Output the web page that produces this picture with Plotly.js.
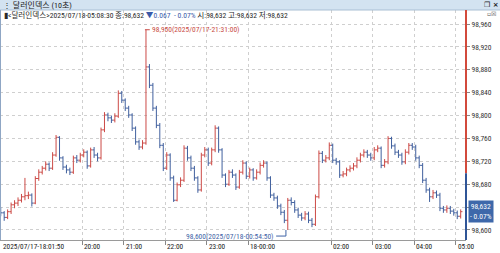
<!DOCTYPE html>
<html><head><meta charset="utf-8">
<script src="https://cdn.plot.ly/plotly-3.0.1.min.js"></script>
<style>html,body{margin:0;padding:0;background:#fff;}#chart{width:500px;height:253px;}</style>
</head><body><div id="chart"></div>
<script>
// ---- data (5-minute bars) ----
const barStart = '2025-07-17 18:02:30';
const barStepMinutes = 5;
const opens = [98.634,98.630,98.622,98.632,98.644,98.647,98.652,98.658,98.660,98.661,
98.647,98.690,98.701,98.708,98.715,98.708,98.731,98.762,98.726,98.710,
98.705,98.701,98.726,98.722,98.731,98.736,98.712,98.740,98.731,98.726,
98.775,98.801,98.796,98.792,98.799,98.839,98.827,98.813,98.801,98.778,
98.754,98.745,98.752,98.885,98.853,98.813,98.783,98.748,98.708,98.731,
98.691,98.652,98.679,98.687,98.743,98.726,98.708,98.691,98.670,98.731,
98.740,98.717,98.740,98.778,98.740,98.696,98.680,98.701,98.696,98.675,
98.701,98.717,98.694,98.705,98.691,98.701,98.713,98.717,98.691,98.661,
98.656,98.642,98.631,98.617,98.652,98.648,98.635,98.626,98.621,98.628,
98.617,98.610,98.658,98.734,98.722,98.726,98.748,98.722,98.719,98.696,
98.698,98.705,98.708,98.712,98.722,98.731,98.736,98.731,98.726,98.740,
98.743,98.713,98.719,98.760,98.747,98.736,98.731,98.719,98.736,98.748,
98.745,98.726,98.713,98.687,98.670,98.658,98.665,98.661,98.638,98.635,
98.638,98.633,98.630,98.624];
const highs = [98.640,98.633,98.636,98.648,98.652,98.657,98.663,98.691,98.667,98.664,
98.694,98.706,98.712,98.720,98.718,98.736,98.766,98.764,98.729,98.714,
98.709,98.730,98.731,98.735,98.741,98.739,98.744,98.745,98.735,98.779,
98.806,98.805,98.800,98.804,98.844,98.843,98.830,98.817,98.804,98.781,
98.758,98.757,98.950,98.890,98.857,98.817,98.787,98.752,98.736,98.734,
98.695,98.683,98.692,98.748,98.747,98.730,98.712,98.694,98.735,98.745,
98.744,98.744,98.783,98.781,98.743,98.699,98.705,98.706,98.699,98.705,
98.722,98.720,98.709,98.708,98.706,98.718,98.722,98.720,98.694,98.665,
98.660,98.646,98.635,98.656,98.657,98.652,98.639,98.630,98.633,98.632,
98.621,98.662,98.739,98.738,98.731,98.753,98.751,98.726,98.722,98.703,
98.709,98.713,98.717,98.727,98.735,98.741,98.740,98.735,98.745,98.748,
98.746,98.724,98.764,98.763,98.751,98.740,98.735,98.741,98.752,98.752,
98.749,98.730,98.717,98.691,98.674,98.670,98.669,98.665,98.642,98.643,
98.642,98.637,98.634,98.636];
const lows = [98.624,98.616,98.619,98.628,98.638,98.642,98.648,98.652,98.654,98.641,
98.645,98.686,98.697,98.704,98.703,98.705,98.728,98.721,98.705,98.699,
98.696,98.698,98.717,98.718,98.727,98.707,98.709,98.726,98.720,98.723,
98.771,98.790,98.787,98.788,98.796,98.822,98.808,98.796,98.773,98.749,
98.740,98.741,98.749,98.848,98.808,98.778,98.743,98.703,98.705,98.686,
98.649,98.650,98.675,98.684,98.721,98.703,98.686,98.665,98.667,98.727,
98.712,98.713,98.736,98.735,98.691,98.675,98.677,98.691,98.670,98.672,
98.697,98.689,98.690,98.686,98.688,98.697,98.709,98.686,98.656,98.651,
98.637,98.626,98.612,98.600,98.643,98.630,98.621,98.616,98.617,98.612,
98.605,98.607,98.655,98.717,98.718,98.722,98.717,98.714,98.691,98.692,
98.694,98.701,98.704,98.708,98.718,98.727,98.726,98.721,98.722,98.736,
98.708,98.709,98.715,98.742,98.731,98.726,98.714,98.715,98.732,98.740,
98.721,98.708,98.682,98.665,98.649,98.654,98.656,98.633,98.630,98.630,
98.628,98.625,98.619,98.620];
const closes = [98.630,98.622,98.632,98.644,98.647,98.652,98.658,98.660,98.661,98.647,
98.690,98.701,98.708,98.715,98.708,98.731,98.762,98.726,98.710,98.705,
98.701,98.726,98.722,98.731,98.736,98.712,98.740,98.731,98.726,98.775,
98.801,98.796,98.792,98.799,98.839,98.827,98.813,98.801,98.778,98.754,
98.745,98.752,98.885,98.853,98.813,98.783,98.748,98.708,98.731,98.691,
98.652,98.679,98.687,98.743,98.726,98.708,98.691,98.670,98.731,98.740,
98.717,98.740,98.778,98.740,98.696,98.680,98.701,98.696,98.675,98.701,
98.717,98.694,98.705,98.691,98.701,98.713,98.717,98.691,98.661,98.656,
98.642,98.631,98.617,98.652,98.648,98.635,98.626,98.621,98.628,98.617,
98.610,98.658,98.734,98.722,98.726,98.748,98.722,98.719,98.696,98.698,
98.705,98.708,98.712,98.722,98.731,98.736,98.731,98.726,98.740,98.743,
98.713,98.719,98.760,98.747,98.736,98.731,98.719,98.736,98.748,98.745,
98.726,98.713,98.687,98.670,98.658,98.665,98.661,98.638,98.635,98.638,
98.633,98.630,98.624,98.632];
const prevClose = 98.699;
const lastPrice = 98.632;
const maxPoint = {time:'2025-07-17 21:31:00', value:98.950, label:'98,950(2025/07/17-21:31:00)'};
const minPoint = {time:'2025-07-18 00:54:50', value:98.600, label:'98,600(2025/07/18-00:54:50)'};
const yTickVals = [98.600,98.640,98.680,98.720,98.760,98.800,98.840,98.880,98.920,98.960];
const yTickText = ['98,600','98,640','98,680','98,720','98,760','98,800','98,840','98,880','98,920','98,960'];
const xTickVals = ['2025-07-17 20:00','2025-07-17 21:00','2025-07-17 22:00','2025-07-17 23:00','2025-07-18 00:00','2025-07-18 02:00','2025-07-18 03:00','2025-07-18 04:00','2025-07-18 05:00'];
const xTickText = ['20:00','21:00','22:00','23:00','18-00:00','02:00','03:00','04:00','05:00'];
const firstLabel = '2025/07/17-18:01:50';
const titleText = '달러인덱스 (10초)';
const infoText = '▮<달러인덱스>2025/07/18-05:08:30 종:98,632 <span style="color:#3a5aa8">▼0.067  - 0.07%</span> 시:98,632 고:98,632 저:98,632';
const boxText = '98,632<br>- 0.07%';

// ---- build x times ----
function pad(n){return (n<10?'0':'')+n;}
function timeAt(i){
  const t=barStart.split(' ')[1];
  const [hh,mm,ss]=t.split(':').map(Number);
  let sec = hh*3600+mm*60+ss + i*barStepMinutes*60;
  const day = 17 + Math.floor(sec/86400); sec = sec%86400;
  return '2025-07-'+pad(day)+' '+pad(Math.floor(sec/3600))+':'+pad(Math.floor(sec%3600/60))+':'+pad(sec%60);
}
const times = closes.map((_,i)=>timeAt(i));

const FONT = '"Roboto Condensed","Noto Sans CJK KR",sans-serif';
const RED = '#cc4a46', BLUE = '#40609e';
const yRange = [98.5825, 98.9845];
const pH = 230; // plot height px

const trace = {
  type:'ohlc', x:times, open:opens, high:highs, low:lows, close:closes,
  increasing:{line:{color:RED,width:1}},
  decreasing:{line:{color:BLUE,width:1}},
  tickwidth:0.5, hoverinfo:'skip', showlegend:false
};

const shapes = [
  {type:'rect',xref:'paper',yref:'paper',x0:-0.01,x1:1.08,y0:1,y1:1+10/pH,fillcolor:'#d3e3f1',line:{width:0},layer:'above'},
  {type:'line',xref:'paper',yref:'paper',x0:-0.01,x1:1.08,y0:1,y1:1,line:{color:'#a9bfd4',width:1},layer:'above'},
  {type:'line',xref:'paper',yref:'y',x0:1,x1:1,y0:prevClose,y1:yRange[1],line:{color:'#d24a3c',width:2}},
  {type:'line',xref:'paper',yref:'y',x0:1,x1:1,y0:yRange[0],y1:prevClose,line:{color:'#2f5597',width:2}},
  {type:'line',xref:'paper',yref:'paper',x0:0,x1:0,y0:0,y1:1,line:{color:'#8fa6c4',width:2}},
  {type:'line',xref:'x',yref:'y',x0:maxPoint.time,x1:'2025-07-17 21:38:00',y0:maxPoint.value,y1:maxPoint.value,line:{color:'#c84a44',width:1}},
  {type:'line',xref:'x',yref:'y',x0:minPoint.time,x1:minPoint.time,y0:minPoint.value,y1:98.5894,line:{color:'#3e63a6',width:1}},
  {type:'line',xref:'x',yref:'y',x0:'2025-07-18 00:40:40',x1:minPoint.time,y0:98.5894,y1:98.5894,line:{color:'#3e63a6',width:1}}
];

const annotations = [
  {xref:'paper',yref:'paper',x:0.002,y:1+5/pH,xanchor:'left',yanchor:'middle',showarrow:false,text:'⋮ '+titleText,font:{family:FONT,size:8,color:'#1a1a1a'}},
  {xref:'paper',yref:'paper',x:1.035,y:1+5/pH,xanchor:'left',yanchor:'middle',showarrow:false,text:'<b>❐ ×</b>',font:{family:'DejaVu Sans',size:7,color:'#222'}},
  {xref:'paper',yref:'paper',x:1.04,y:1-3.5/pH,xanchor:'left',yanchor:'middle',showarrow:false,text:'▫☒',font:{family:'DejaVu Sans',size:6,color:'#555'}},
  {xref:'paper',yref:'paper',x:0.004,y:1-5.5/pH,xanchor:'left',yanchor:'middle',showarrow:false,text:infoText,font:{family:FONT,size:7.6,color:'#2a2a2a'}},
  {xref:'x',yref:'y',x:'2025-07-17 21:38:20',y:maxPoint.value,xanchor:'left',yanchor:'middle',showarrow:false,text:maxPoint.label,font:{family:FONT,size:7.5,color:'#c84a44'}},
  {xref:'x',yref:'y',x:'2025-07-18 00:40:30',y:98.5894,xanchor:'right',yanchor:'middle',showarrow:false,text:minPoint.label,font:{family:FONT,size:7.5,color:'#3e63a6'}},
  {xref:'paper',yref:'y',x:1.004,y:lastPrice,xanchor:'left',yanchor:'middle',showarrow:false,text:boxText,bgcolor:'#3e68aa',borderpad:1,align:'center',font:{family:FONT,size:7.5,color:'#ffffff'}},
  {xref:'paper',yref:'paper',x:0.002,y:-6/pH,xanchor:'left',yanchor:'middle',showarrow:false,text:firstLabel,font:{family:FONT,size:7.3,color:'#222'}}
];
xTickVals.forEach((t,i)=>annotations.push({xref:'x',yref:'paper',x:t,y:-6/pH,xanchor:'left',yanchor:'middle',showarrow:false,text:xTickText[i],font:{family:FONT,size:7.3,color:'#222'}}));

const layout = {
  width:500,height:253,
  margin:{l:0,r:34,t:10,b:13,pad:0},
  paper_bgcolor:'#ffffff',plot_bgcolor:'#ffffff',
  showlegend:false,
  xaxis:{type:'date',range:['2025-07-17 18:01:27','2025-07-18 05:15:10'],
    rangeslider:{visible:false},tickvals:xTickVals,showticklabels:false,
    ticks:'outside',ticklen:4,tickcolor:'#888',
    showgrid:true,gridcolor:'#cfcfcf',griddash:'dot',gridwidth:1,
    showline:true,linecolor:'#9a9a9a',linewidth:1,zeroline:false,fixedrange:true},
  yaxis:{side:'right',range:yRange,tickvals:yTickVals,ticktext:yTickText,
    ticks:'outside',ticklen:3,tickcolor:'#888',
    tickfont:{family:FONT,size:7.5,color:'#333'},
    showgrid:true,gridcolor:'#cfcfcf',griddash:'dot',gridwidth:1,
    showline:false,zeroline:false,fixedrange:true},
  shapes:shapes,annotations:annotations
};
Plotly.newPlot('chart',[trace],layout,{displayModeBar:false,staticPlot:true});
</script></body></html>
